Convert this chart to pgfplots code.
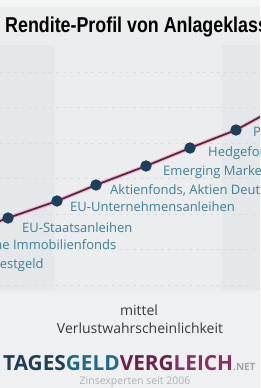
\documentclass[border=0pt]{standalone}
\usepackage{pgfplots}
\pgfplotsset{compat=1.18}
\usepackage{fontspec}
\setmainfont{Open Sans}
\newfontfamily\titlefont{Liberation Sans}
\definecolor{bg}{HTML}{EBEDEE}
\definecolor{band}{HTML}{E5E8EA}
\definecolor{topc}{HTML}{F4F6F6}
\definecolor{botc}{HTML}{EEF0F1}
\definecolor{gridc}{HTML}{D9DDE0}
\definecolor{lbl}{HTML}{3E7F99}
\definecolor{linec}{HTML}{5C1F3E}
\definecolor{glow}{HTML}{E7A3C0}
\definecolor{mk}{HTML}{1D3F5E}
\definecolor{tg1}{HTML}{1F3F55}
\definecolor{tg2}{HTML}{1F6A8A}
\definecolor{vg1}{HTML}{6E1F4A}
\definecolor{vg2}{HTML}{8C2F62}
\definecolor{netc}{HTML}{A3A6A8}
\definecolor{zinc}{HTML}{B0B3B5}
\definecolor{subc}{HTML}{3A3A3A}
\begin{document}
\begin{tikzpicture}
\path[use as bounding box, clip] (0,0) rectangle (260pt,388pt);
\fill[bg] (0,0) rectangle (260pt,388pt);
\fill[band] (0,98pt) rectangle (55pt,343pt);
\fill[band] (222pt,98pt) rectangle (260pt,343pt);
\fill[topc] (0,381pt) rectangle (260pt,388pt);
\fill[botc] (0,0) rectangle (260pt,96pt);
\begin{axis}[at={(0,0)}, anchor=south west, scale only axis,
  width=260pt, height=388pt, xmin=0, xmax=260, ymin=0, ymax=388,
  axis line style={draw=none}, tick style={draw=none},
  xtick=\empty, ytick={103,138.5,174,209.5,245,280.5,316}, yticklabels={},
  ymajorgrids, major grid style={dash pattern=on 3pt off 4pt, gridc, line width=0.9pt},
  clip=false]
\addplot[glow, line width=4pt, opacity=0.7] table {
x y
-84 136
-38 153
8 170
57 187
96 203
146 222
190 240
236 258
280 282
};
\addplot[linec, line width=1.7pt, mark=*, mark size=4.8pt, mark options={fill=mk, draw=mk}] table {
x y
-84 136
-38 153
8 170
57 187
96 203
146 222
190 240
236 258
280 282
};
\addplot[draw=none, mark=none, nodes near coords, point meta=explicit symbolic,
  nodes near coords align={anchor=west},
  every node near coord/.append style={anchor=west, inner sep=0pt, text=lbl, font=\fontsize{13}{13}\selectfont}]
  table[col sep=semicolon, meta=label] {
x;y;label
-7;123;Festgeld
-32;143;Offene Immobilienfonds
22;160;EU-Staatsanleihen
70;181;EU-Unternehmensanleihen
110;198;Aktienfonds, Aktien Deutschland
163;216;Emerging Markets
208;235;Hedgefonds
253;255;Private Equity
};
\end{axis}
\node[anchor=base west, inner sep=0pt] at (5pt,355pt) {\scalebox{0.83}[1]{\titlefont\bfseries\fontsize{21.5}{21.5}\selectfont Rendite-Profil von Anlageklassen}};
\node[inner sep=0pt, text=subc, font=\fontsize{14}{14}\selectfont] at (139pt,78pt) {mittel};
\node[inner sep=0pt, text=subc, font=\fontsize{14}{14}\selectfont] at (140pt,60pt) {Verlustwahrscheinlichkeit};
\node[anchor=west, inner sep=0pt, font=\bfseries\fontsize{20.8}{20.8}\selectfont] at (3pt,25pt) {\textcolor{tg1}{TAGES}\textcolor{tg2}{GELD}\textcolor{vg1}{VERG}\textcolor{vg2}{LEICH}\textcolor{netc}{\fontsize{10}{10}\selectfont.NET}};
\node[inner sep=0pt, text=zinc, font=\fontsize{10.5}{10.5}\selectfont] at (135pt,6pt) {Zinsexperten seit 2006};
\end{tikzpicture}
\end{document}
